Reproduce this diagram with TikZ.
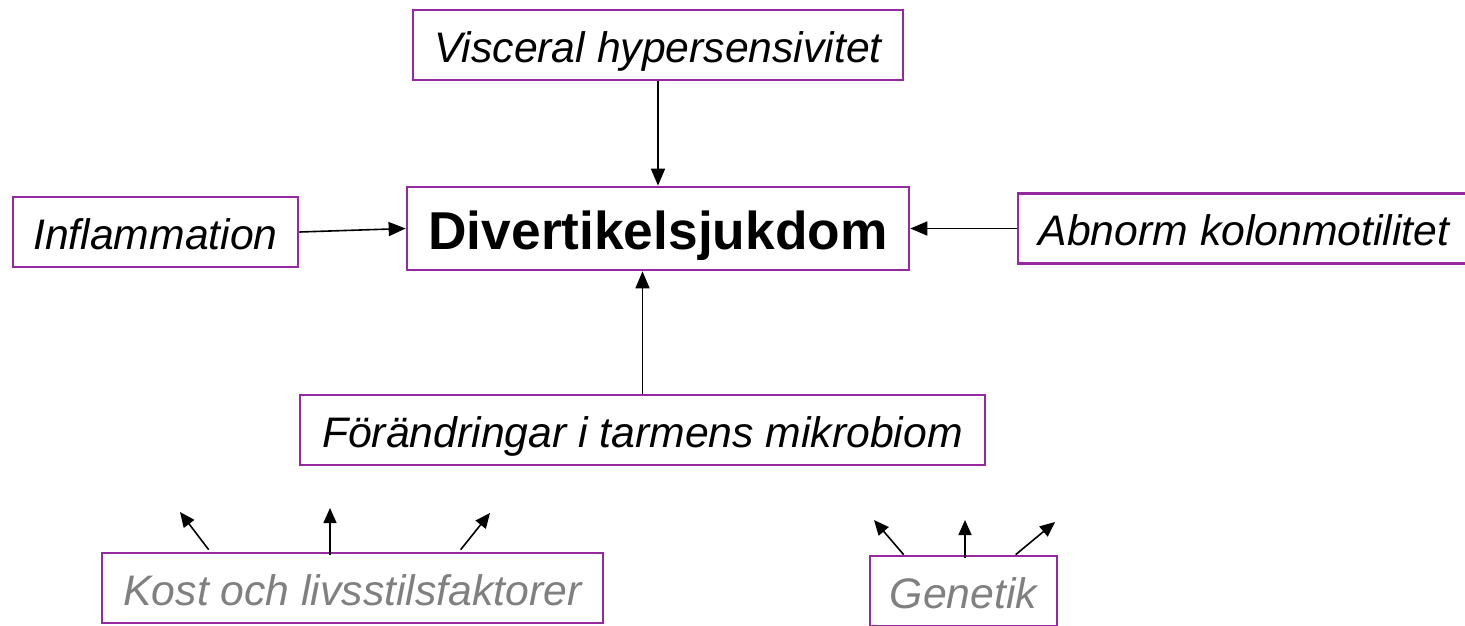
\documentclass[tikz,border=0pt]{standalone}
\usepackage{fontspec}
\setmainfont{Liberation Sans}
\usetikzlibrary{arrows.meta,calc}
\definecolor{boxpurple}{RGB}{150,40,160}
\definecolor{softgray}{RGB}{128,128,128}
\tikzset{
  factor/.style={draw=boxpurple,line width=2.7pt,fill=white,inner sep=0pt,
    minimum height=70pt,text height=40pt,text depth=6pt,
    font=\fontsize{42.7}{46}\selectfont\itshape},
  mainbox/.style={draw=boxpurple,line width=2.7pt,fill=white,inner sep=0pt,
    minimum height=83pt,text height=48pt,text depth=6pt,
    font=\fontsize{53.3}{56}\selectfont\bfseries},
  grayfactor/.style={factor,text=softgray},
  conn/.style={line width=1.6pt,-{Triangle[length=17pt,width=14pt]}},
  smallconn/.style={line width=1.6pt,-{Triangle[length=15pt,width=13pt]}}
}
\begin{document}
\begin{tikzpicture}[x=1pt,y=-1pt]
\useasboundingbox (0,0) rectangle (1465,625);
\clip (0,0) rectangle (1465,625);
\node[factor,minimum width=490pt] (vis) at (658,45) {Visceral hypersensivitet};
\node[mainbox,minimum width=502pt] (div) at (658,228.5) {Divertikelsjukdom};
\node[factor,minimum width=285pt] (inf) at (155.5,232) {Inflammation};
\node[factor,minimum width=452pt] (abn) at (1244,228.5) {Abnorm kolonmotilitet};
\node[factor,minimum width=685pt] (for) at (642.5,430) {Förändringar i tarmens mikrobiom};
\node[grayfactor,minimum width=501pt] (kost) at (352.5,588) {Kost och livsstilsfaktorer};
\node[grayfactor,minimum width=187pt] (gen) at (963.5,591) {Genetik};
\draw[conn] (vis.south) -- (div.north);
\draw[conn] (inf.east) -- (div.west);
\draw[conn] (abn.west) -- (div.east);
\draw[conn] (for.north) -- (for.north |- div.south);
\coordinate (k1) at (180,512);
\coordinate (k2) at (330,508);
\coordinate (k3) at (490,513);
\draw[smallconn] ($(kost.north west)+(108,-2)$) -- (k1);
\draw[smallconn] (k2 |- kost.north) ++(0,3) -- (k2);
\draw[smallconn] ($(kost.north west)+(360,-2)$) -- (k3);
\coordinate (g1) at (874,520);
\coordinate (g2) at (965,520);
\coordinate (g3) at (1055,522);
\draw[smallconn] ($(gen.north west)+(35,0)$) -- (g1);
\draw[smallconn] (g2 |- gen.north) ++(0,3) -- (g2);
\draw[smallconn] ($(gen.north west)+(147,0)$) -- (g3);
\end{tikzpicture}
\end{document}
